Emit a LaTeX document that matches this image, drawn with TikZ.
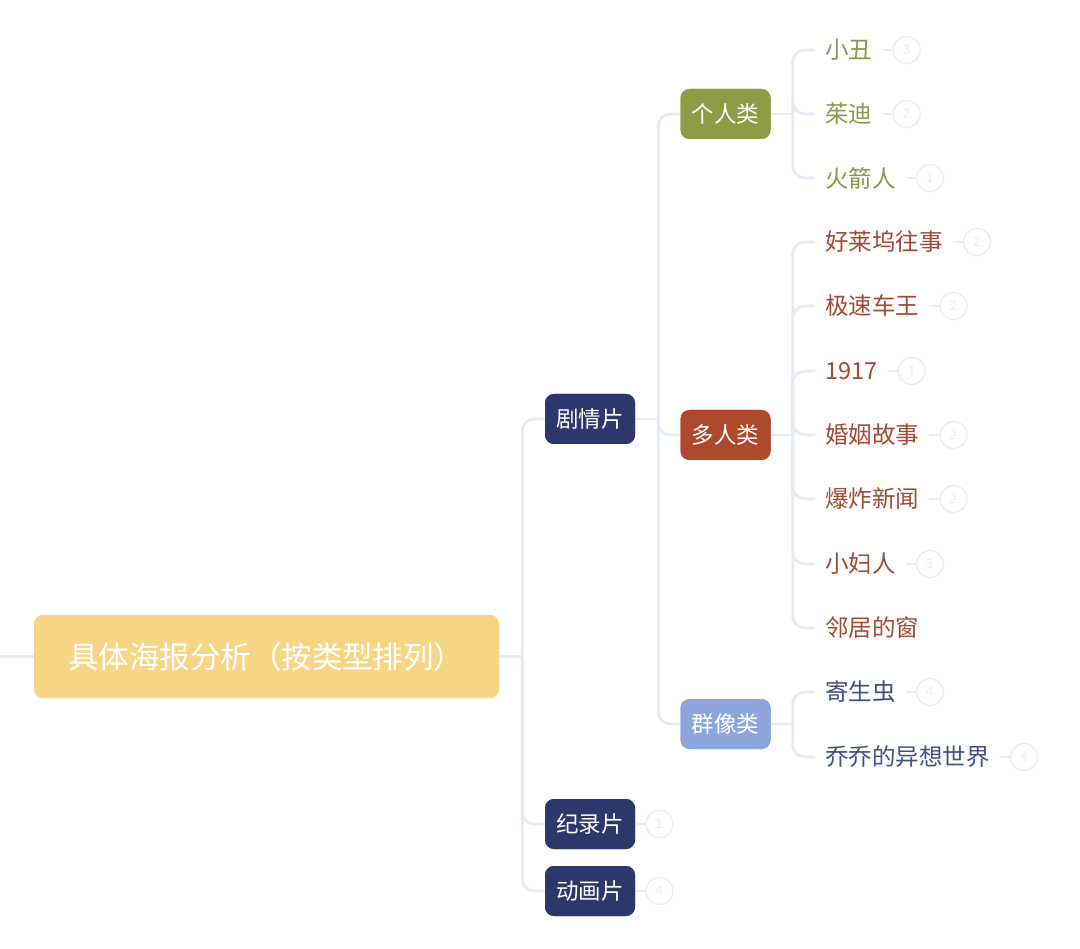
\documentclass[tikz,border=0pt]{standalone}
\usepackage{fontspec}
\setmainfont{Noto Sans CJK SC}
\usetikzlibrary{positioning}
\definecolor{rootc}{HTML}{F6D685}
\definecolor{navy}{HTML}{2C376B}
\definecolor{olive}{HTML}{8F9B45}
\definecolor{rust}{HTML}{AE4A2C}
\definecolor{lblue}{HTML}{8CA6DB}
\definecolor{oltxt}{HTML}{8A9A4A}
\definecolor{rutxt}{HTML}{A04B33}
\definecolor{bltxt}{HTML}{3F5186}
\definecolor{conc}{HTML}{E4EBF3}
\definecolor{circc}{HTML}{ECECF0}
\tikzset{
  conn/.style={draw=conc, line width=2.8pt, rounded corners=12pt},
  rootbox/.style={fill=rootc, rounded corners=9pt, minimum height=83pt, inner xsep=34pt, inner ysep=0pt, text width=397pt, align=left, text=white, font=\fontsize{30.5}{32}\selectfont},
  catbox/.style={rounded corners=9pt, minimum width=90pt, minimum height=50pt, text=white, inner sep=0pt, font=\fontsize{22.5}{24}\selectfont},
  leaf/.style={anchor=west, inner xsep=10pt, inner ysep=4pt, font=\fontsize{23.5}{25}\selectfont},
  badge/.style={circle, draw=circc, line width=1.3pt, minimum size=27pt, inner sep=0pt, text=circc, font=\fontsize{13}{13}\selectfont},
  tick/.style={draw=circc, line width=1.3pt},
}
\begin{document}
\begin{tikzpicture}[x=1pt, y=-1pt]
\useasboundingbox (0,0) rectangle (1080,949);
\fill[white] (0,0) rectangle (1080,949);
% nodes
\node[rootbox] (root) at (266.5,656.5) {具体海报分析（按类型排列）};
\coordinate (lft) at (0,656.5);
\node[catbox, fill=navy] (jq) at (590,419) {剧情片};
\node[catbox, fill=navy] (jl) at (590,824) {纪录片};
\node[catbox, fill=navy] (dh) at (590,891) {动画片};
\node[catbox, fill=olive] (gr) at (725.5,114) {个人类};
\node[catbox, fill=rust] (dr) at (725.5,435) {多人类};
\node[catbox, fill=lblue] (qx) at (725.5,724) {群像类};
% leaves
\node[leaf, text=oltxt] (l1) at (815,50) {小丑};
\node[leaf, text=oltxt] (l2) at (815,114) {茱迪};
\node[leaf, text=oltxt] (l3) at (815,178) {火箭人};
\node[leaf, text=rutxt] (m1) at (815,242) {好莱坞往事};
\node[leaf, text=rutxt] (m2) at (815,306) {极速车王};
\node[leaf, text=rutxt] (m3) at (815,371) {1917};
\node[leaf, text=rutxt] (m4) at (815,435) {婚姻故事};
\node[leaf, text=rutxt] (m5) at (815,499) {爆炸新闻};
\node[leaf, text=rutxt] (m6) at (815,564) {小妇人};
\node[leaf, text=rutxt] (m7) at (815,628) {邻居的窗};
\node[leaf, text=bltxt] (q1) at (815,692) {寄生虫};
\node[leaf, text=bltxt] (q2) at (815,757) {乔乔的异想世界};
% badges
\node[badge, right=10pt of l1] (b1) {3};
\node[badge, right=10pt of l2] (b2) {2};
\node[badge, right=10pt of l3] (b3) {1};
\node[badge, right=10pt of m1] (c1) {2};
\node[badge, right=10pt of m2] (c2) {2};
\node[badge, right=10pt of m3] (c3) {1};
\node[badge, right=10pt of m4] (c4) {2};
\node[badge, right=10pt of m5] (c5) {2};
\node[badge, right=10pt of m6] (c6) {3};
\node[badge, right=10pt of q1] (d1) {4};
\node[badge, right=10pt of q2] (d2) {4};
\node[badge, right=10pt of jl] (e1) {1};
\node[badge, right=10pt of dh] (e2) {4};
% connectors
\draw[conn] (lft) -- (root.west);
\draw[conn] (root.east) -- ++(23,0);
\foreach \c in {jq,jl,dh} \draw[conn] (root.east) ++(23,0) |- (\c.west);
\draw[conn] (jq.east) -- ++(23,0);
\foreach \c in {gr,dr,qx} \draw[conn] (jq.east) ++(23,0) |- (\c.west);
\draw[conn] (gr.east) -- ++(22,0);
\foreach \c in {l1,l2,l3} \draw[conn] (gr.east) ++(22,0) |- (\c.west);
\draw[conn] (dr.east) -- ++(22,0);
\foreach \c in {m1,m2,m3,m4,m5,m6,m7} \draw[conn] (dr.east) ++(22,0) |- (\c.west);
\draw[conn] (qx.east) -- ++(22,0);
\foreach \c in {q1,q2} \draw[conn] (qx.east) ++(22,0) |- (\c.west);
\foreach \a/\b in {l1/b1,l2/b2,l3/b3,m1/c1,m2/c2,m3/c3,m4/c4,m5/c5,m6/c6,q1/d1,q2/d2,jl/e1,dh/e2}
  \draw[tick] (\a.east) -- (\b.west);
% redraw boxes over connectors
\node[rootbox] at (root) {具体海报分析（按类型排列）};
\node[catbox, fill=navy] at (jq) {剧情片};
\node[catbox, fill=navy] at (jl) {纪录片};
\node[catbox, fill=navy] at (dh) {动画片};
\node[catbox, fill=olive] at (gr) {个人类};
\node[catbox, fill=rust] at (dr) {多人类};
\node[catbox, fill=lblue] at (qx) {群像类};
\end{tikzpicture}
\end{document}
